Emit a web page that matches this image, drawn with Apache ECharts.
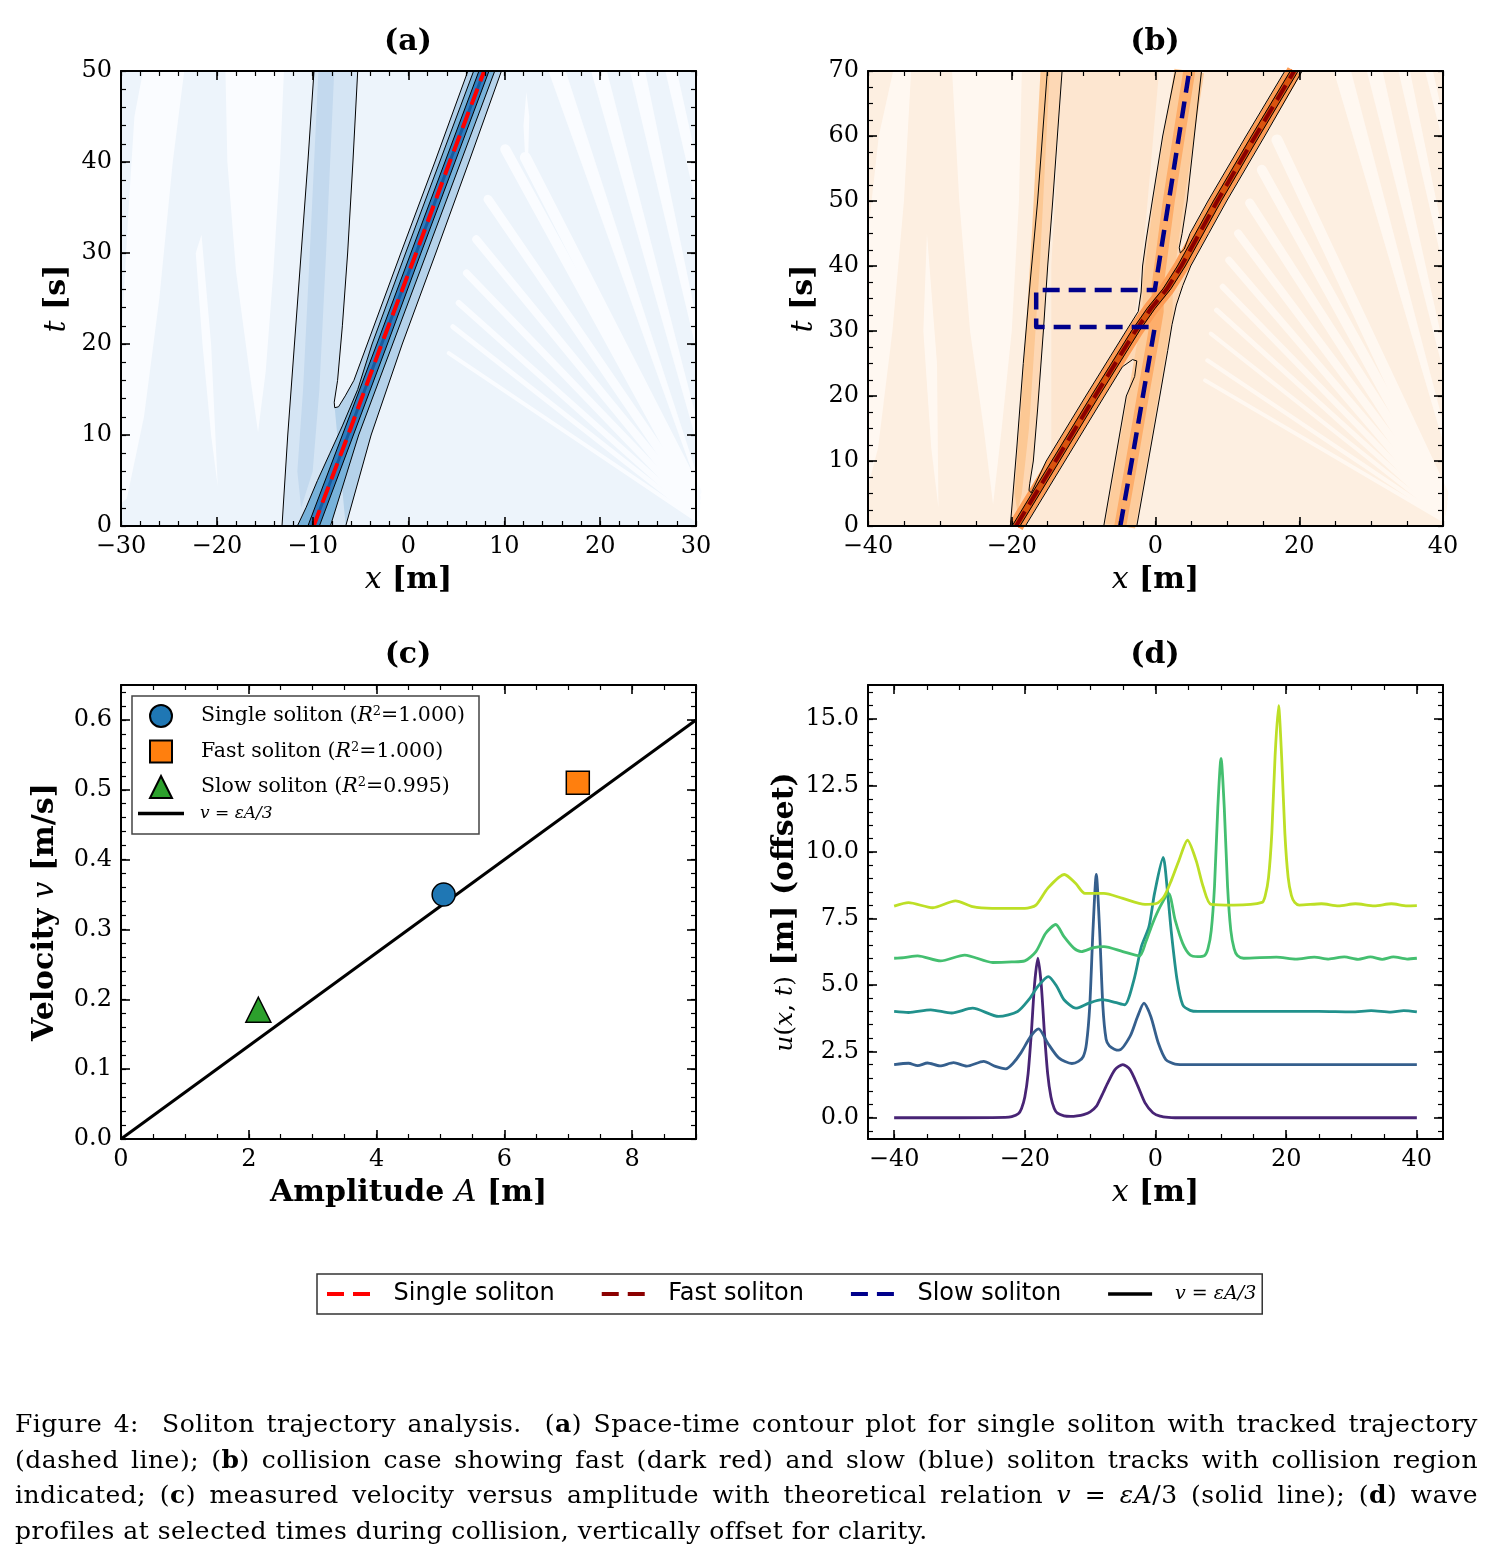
<!DOCTYPE html>
<html lang="en">
<head>
<meta charset="UTF-8">
<title>Soliton trajectory analysis</title>
<script src="https://cdn.jsdelivr.net/npm/echarts@6/dist/echarts.min.js"></script>
<style>
  body { margin: 0; background: #fff; }
  #chart { position: absolute; left: 0; top: 0; width: 1493px; height: 1565px; }
  #caption { position: absolute; left: 15px; top: 1406px; width: 1463px;
             font-family: 'DejaVu Serif', serif; font-size: 25px; letter-spacing: 0.5px;
             line-height: 35.7px; color: #000; }
  #caption div { text-align: justify; text-align-last: justify; }
  #caption div.last { text-align-last: left; }
</style>
</head>
<body>
<div id="chart"></div>
<div id="caption">
  <div>Figure 4:&nbsp; Soliton trajectory analysis.&nbsp; (<b>a</b>) Space-time contour plot for single soliton with tracked trajectory</div>
  <div>(dashed line); (<b>b</b>) collision case showing fast (dark red) and slow (blue) soliton tracks with collision region</div>
  <div>indicated; (<b>c</b>) measured velocity versus amplitude with theoretical relation <i>v</i> = <i>εA</i>/3 (solid line); (<b>d</b>) wave</div>
  <div class="last">profiles at selected times during collision, vertically offset for clarity.</div>
</div>
<script>
// ---------- (a) single soliton, x [m] vs t [s] ----------
var aTrack  = [[-9.9,0],[-6.3,10],[-2.8,20],[0.8,30],[4.3,40],[7.9,50]];
var aTailL  = [[-13.2,0],[-12.6,10],[-11.9,20],[-11.2,30],[-10.5,40],[-9.86,50]];
var aTailR  = [[-5.3,50],[-5.8,40],[-6.35,30],[-6.9,22],[-7.4,16],[-7.75,13.6],[-7.7,13.0]];
var aOuterL = [[-7.7,13.0],[-7.3,13.1],[-6.6,14.3],[-5.7,16],[-4.3,20],[-0.8,30],[2.75,40],[6.2,50]];
var aOuterR = [[-6.55,0],[-3.9,10],[-0.65,20],[2.85,30],[6.3,40],[9.7,50]];
var aMidL   = [[-11.6,0],[-10.7,2],[-9.5,5],[-8.2,8],[-6.9,11],[-5.3,15],[-3.8,20],[-0.3,30],[3.25,40],[6.8,50]];
var aMidR   = [[-8.15,0],[-5.2,10],[-1.65,20],[1.9,30],[5.45,40],[9.0,50]];
var aInL    = [[-10.5,0],[-6.9,10],[-3.3,20],[0.25,30],[3.8,40],[7.35,50]];
var aInR    = [[-9.3,0],[-5.75,10],[-2.2,20],[1.3,30],[4.85,40],[8.4,50]];
var aStreak = [[-9.4,50],[-7.75,50],[-8.6,30],[-9.3,15],[-10,6],[-11.2,2],[-11.6,6],[-11.0,15],[-10.3,30]];
var aStripes = [
  [[-27.7,50],[-23.4,50],[-24.6,40],[-26.0,25],[-27.6,12],[-29.4,3],[-30,2.5],[-30,20],[-29.2,35],[-28.6,45]],
  [[-19.1,50],[-13.0,50],[-13.4,40],[-14.1,28],[-14.9,17],[-15.7,10.3],[-16.6,17],[-18.0,28],[-18.9,40]],
  [[-21.6,32],[-20.6,20],[-19.9,4.3],[-20.6,10],[-21.5,20],[-22.2,30]],
  [[26.8,50],[28.0,50],[30,40.5],[30,35.5]],
  [[23.1,50],[24.7,50],[30,23],[30,19.5]],
  [[19.05,50],[20.7,50],[30,12],[30,9.5]],
  [[14.6,50],[16.4,50],[30,6],[30,4.8]],
  [[12.3,47.7],[12.6,45],[12.5,41],[12.2,40],[12.0,44]]
];
var aFan = [
  [[12.2,40.5],[30,3.8]], [[10.1,41.4],[30,3.1]], [[8.3,35.9],[30,2.5]], [[7.07,31.5],[30,2.0]],
  [[6.05,27.8],[30,1.6]], [[5.24,24.5],[30,1.25]], [[4.63,21.9],[30,0.95]], [[4.2,19.0],[30,0.7]]
];

// ---------- (b) collision ----------
var bFastTrack = [[-19.4,0],[-13.9,10],[-8.4,20],[-2.8,30],[-0.6,33.5],[1.6,36.5],[3.6,40],[8.6,50],[13.9,60],[19.3,70]];
var bSlowTrack = [[-4.9,0],[-3.3,10],[-1.75,20],[-0.1,30.6],[-16.6,30.6],[-16.6,36.3],[-0.1,36.3],[1.85,50],[3.27,60],[4.7,70]];
var bSlowRidge = [[-4.9,0],[-3.3,10],[-1.75,20],[-0.3,29],[0.3,33],[0.3,37],[1.85,50],[3.27,60],[4.7,70]];
var bTailL  = [[-20.2,0],[-19.3,12],[-18.4,25],[-17.4,38],[-16.4,50],[-15.05,70]];
var bTailR  = [[-13.0,70],[-14.3,50],[-15.0,40],[-15.6,30],[-16.4,18],[-17.0,10],[-17.5,6.5],[-17.6,5.5],[-17.3,5.1]];
var bOuterL = [[-17.3,5.1],[-16.9,6],[-15.2,10],[-9.7,20],[-4.1,30],[-2.4,33],[-2.0,36],[-1.8,40],[-1.3,44],[-0.45,50],[1.0,60],[2.8,70]];
var bOuterR = [[-2.6,0],[-1.0,10],[0.6,20],[1.7,27],[2.3,31],[2.9,34],[3.8,37],[4.9,40],[7.4,45],[9.9,50],[15.2,60],[20.4,70]];
var bWedgeLo = [[-18.1,0],[-12.6,10],[-7.1,20],[-4.6,24.5],[-3.2,25.6],[-2.6,25.4],[-2.9,23],[-4.06,20],[-5.63,10],[-7.2,0]];
var bWedgeHi = [[6.4,70],[5.4,60],[4.4,50],[3.7,45],[3.3,42.8],[3.45,42.0],[4.0,42.6],[4.8,45],[7.3,50],[12.6,60],[18.0,70]];
var bFastInL = [[-19.95,0],[-14.45,10],[-8.95,20],[-3.35,30],[-1.15,33.5],[1.05,36.5],[3.05,40],[8.05,50],[13.35,60],[18.75,70]];
var bFastInR = [[-18.85,0],[-13.35,10],[-7.85,20],[-2.25,30],[-0.05,33.5],[2.15,36.5],[4.15,40],[9.15,50],[14.45,60],[19.85,70]];
var bBlob   = [[-2.0,31.6],[-0.6,32.6],[0.9,34.0],[2.0,35.6],[1.2,36.0],[-0.2,35.0],[-1.6,33.4]];
var bShelf  = [[-14.5,0],[-7.2,0],[-4.5,20],[-2.7,33],[-1.5,45],[0.5,70],[-13.0,70],[-14.5,40]];
var bStreak = [[-16.0,70],[-14.7,70],[-16.1,40],[-17.6,15],[-18.6,5],[-19.2,2],[-19.6,5],[-18.6,20],[-17.2,45]];
var bStripes = [
  [[-36.5,70],[-34.0,70],[-35.0,50],[-36.6,30],[-38.6,12],[-40,6],[-40,45],[-38.5,60]],
  [[-28.3,70],[-18.6,70],[-19.0,50],[-20.0,30],[-21.4,15],[-22.6,3.3],[-23.9,15],[-25.8,30],[-27.3,50]],
  [[-31.8,45],[-30.4,25],[-30.2,2.8],[-31.2,12],[-32.3,30]],
  [[37.5,70],[38.6,70],[40,63],[40,59]],
  [[33.8,70],[35.4,70],[40,45],[40,40]],
  [[29.4,70],[31.6,70],[40,28],[40,24]],
  [[24.8,70],[27.2,70],[40,16],[40,13]],
  [[9.35,66],[10.2,68.7],[11.0,66],[10.2,63.6]],
  [[12.6,68],[13.2,69.7],[13.7,68],[13.2,66]]
];
var bFan = [
  [[16.9,59.4],[40,5.0]], [[14.8,54.8],[40,4.2]], [[13.1,49.7],[40,3.5]], [[11.5,45.0],[40,2.9]],
  [[10.2,40.9],[40,2.4]], [[9.35,36.8],[40,2.0]], [[8.5,33.2],[40,1.7]], [[7.7,29.6],[40,1.4]],
  [[7.2,25.5],[40,1.15]], [[6.9,22.4],[40,0.9]]
];

// ---------- (c) velocity vs amplitude ----------
var cSingle = [[5.05,0.35]];
var cFast   = [[7.15,0.51]];
var cSlow   = [[2.15,0.185]];
var cTheory = [[0,0],[9,0.6]];

// ---------- (d) wave profiles (offset 0, 2, 4, 6, 8) ----------
var d0 = [[-40,0],[-30,0],[-23,0.01],[-22,0.04],[-21,0.15],[-20.5,0.35],[-20,0.78],[-19.5,1.65],[-19,3.2],[-18.5,5.05],[-18,6.0],[-17.5,5.05],[-17,3.2],[-16.5,1.65],[-16,0.78],[-15.5,0.35],[-15,0.17],[-14,0.07],[-13,0.05],[-12,0.07],[-11,0.12],[-10,0.22],[-9,0.45],[-8.5,0.69],[-8,0.95],[-7.3,1.31],[-6.2,1.81],[-5,2.0],[-3.9,1.81],[-2.7,1.19],[-1.6,0.56],[-0.4,0.19],[0.7,0.06],[2,0.01],[3,0],[40,0]];
var d1 = [[-40,2.0],[-37.8,2.05],[-36.4,1.96],[-34.9,2.06],[-33,1.95],[-30.9,2.07],[-28.9,1.94],[-26.3,2.12],[-24.5,1.93],[-22.9,1.84],[-21.8,2.05],[-20.6,2.44],[-19.1,3.06],[-17.9,3.34],[-16.5,2.81],[-14.8,2.25],[-12.8,2.04],[-11.8,2.12],[-11.06,2.3],[-10.56,2.8],[-10.06,4.22],[-9.56,7.1],[-9.06,9.15],[-8.56,7.1],[-8.06,4.22],[-7.56,2.95],[-7.06,2.7],[-6.3,2.58],[-5.6,2.54],[-3.9,3.06],[-2.74,3.81],[-1.76,4.31],[-0.72,3.81],[0.43,2.81],[1.58,2.19],[3.0,2.02],[5,2.0],[40,2.0]];
var d2 = [[-40,4.0],[-37.8,3.96],[-34.4,4.06],[-31.2,3.94],[-28.0,4.12],[-24.0,3.81],[-21.1,4.0],[-19.4,4.44],[-18.0,4.94],[-16.4,5.31],[-15.1,4.94],[-14.0,4.44],[-12.2,4.12],[-10.2,4.31],[-8.2,4.44],[-6.2,4.34],[-4.75,4.25],[-3.3,5.19],[-2.16,6.44],[-1.0,7.19],[-0.15,8.44],[1.17,9.79],[1.86,8.44],[2.44,6.94],[3.3,5.19],[4.16,4.25],[5.3,4.04],[6.5,4.0],[25,4.0],[30,3.98],[33,4.03],[36,3.97],[38,4.03],[40,3.98]];
var d3 = [[-40,6.0],[-38.5,6.02],[-36.4,6.09],[-32.9,5.9],[-29.2,6.12],[-24.9,5.84],[-22,5.86],[-20.0,5.9],[-18.3,6.25],[-16.8,6.94],[-15.27,7.27],[-14.0,6.81],[-12.5,6.38],[-11.36,6.25],[-9.5,6.4],[-7.9,6.44],[-5.0,6.25],[-2.45,6.09],[-1.5,6.6],[-0.44,7.31],[0.71,7.94],[2.0,8.44],[3.0,7.44],[4.16,6.56],[5.3,6.12],[6.46,6.06],[7.5,6.1],[8.03,6.36],[8.53,7.04],[9.03,8.7],[9.53,11.64],[10.03,13.52],[10.53,11.64],[11.03,8.7],[11.53,7.04],[12.03,6.36],[12.53,6.1],[13.5,6.0],[18.5,6.04],[21.5,5.97],[24.3,6.04],[26.5,5.97],[28.9,6.05],[31,5.96],[32.9,6.05],[34.7,5.96],[36.4,6.05],[38.5,5.97],[40,6.0]];
var d4 = [[-40,7.96],[-37.8,8.09],[-34.1,7.9],[-30.6,8.16],[-28.0,7.94],[-25,7.88],[-20.0,7.88],[-18.3,8.0],[-16.5,8.63],[-13.95,9.15],[-12.2,8.81],[-10.8,8.44],[-7.9,8.44],[-5.0,8.25],[-1.6,8.03],[0.14,8.06],[1.29,8.31],[2.44,8.94],[3.6,9.69],[4.9,10.44],[6.2,9.69],[7.3,8.69],[8.5,8.03],[12,8.0],[16.3,8.1],[16.8,8.36],[17.3,9.04],[17.8,10.7],[18.3,13.6],[18.83,15.5],[19.3,13.6],[19.8,10.7],[20.3,9.04],[20.8,8.36],[21.3,8.1],[22,8.0],[25.4,8.05],[28,7.97],[30.6,8.05],[33.5,7.97],[36.1,8.05],[38.5,7.97],[40,7.98]];
var dColors = ['#482475', '#355f8d', '#21918c', '#44bf70', '#bddf26'];

// ---------- tick labels ----------
var aXMajor = [-30,-20,-10,0,10,20,30], aYMajor = [0,10,20,30,40,50];
var bXMajor = [-40,-20,0,20,40],        bYMajor = [0,10,20,30,40,50,60,70];
var cXMajor = [0,2,4,6,8],              cYMajor = [0,0.1,0.2,0.3,0.4,0.5,0.6];
var dXMajor = [-40,-20,0,20,40],        dYMajor = [0,2.5,5,7.5,10,12.5,15];

function steps(a, b, s) {
  var out = [];
  for (var v = a; v <= b + 1e-9; v += s) out.push(Math.round(v * 1e6) / 1e6);
  return out;
}
function fmtInt(v) { return v < 0 ? '\u2212' + (-v) : String(v); }
function fmt1(v) { return v.toFixed(1); }

var SERIF = 'DejaVu Serif';
var RICH = {
  i:  { fontFamily: SERIF, fontStyle: 'italic', fontSize: 30, color: '#000' },
  b:  { fontFamily: SERIF, fontWeight: 'bold', fontSize: 30, color: '#000' },
  s:  { fontFamily: SERIF, fontSize: 25, color: '#000' },
  si: { fontFamily: SERIF, fontStyle: 'italic', fontSize: 25, color: '#000' }
};

// four axes per direction: main (labels) + minor, and mirrored ones on the other side
function makeAxes(gi, dim, min, max, major, minor, fmt, name, gap) {
  var pos = dim === 'x' ? ['bottom', 'top'] : ['left', 'right'];
  var list = [];
  [0, 1].forEach(function (side) {
    [major, minor].forEach(function (vals, k) {
      var isMain = side === 0 && k === 0;
      var ax = {
        gridIndex: gi, type: 'value', min: min, max: max, position: pos[side], z: 10,
        axisLine: { show: k === 0, onZero: false, lineStyle: { color: '#000', width: 2 } },
        axisTick: { show: true, inside: true, length: k === 0 ? 9 : 5,
                    lineStyle: { color: '#000', width: k === 0 ? 1.6 : 1.2 }, customValues: vals },
        axisLabel: isMain ? { show: true, customValues: vals, formatter: fmt, margin: 9,
                              color: '#000', fontSize: 24, fontFamily: SERIF } : { show: false },
        splitLine: { show: false },
        axisPointer: { show: false }
      };
      if (isMain) {
        ax.name = name; ax.nameLocation = 'middle'; ax.nameGap = gap;
        ax.nameTextStyle = { rich: RICH };
      }
      list.push(ax);
    });
  });
  return list;
}

var xAxes = [].concat(
  makeAxes(0, 'x', -30, 30, aXMajor, steps(-30, 30, 2), fmtInt, '{i|x}{b| [m]}', 39),
  makeAxes(1, 'x', -40, 40, bXMajor, steps(-40, 40, 5), fmtInt, '{i|x}{b| [m]}', 39),
  makeAxes(2, 'x', 0, 9, cXMajor, steps(0, 9, 0.5), fmtInt, '{b|Amplitude }{i|A}{b| [m]}', 39),
  makeAxes(3, 'x', -44, 44, dXMajor, steps(-40, 40, 5), fmtInt, '{i|x}{b| [m]}', 39)
);
var yAxes = [].concat(
  makeAxes(0, 'y', 0, 50, aYMajor, steps(0, 50, 2), fmtInt, '{i|t}{b| [s]}', 49),
  makeAxes(1, 'y', 0, 70, bYMajor, steps(0, 70, 2.5), fmtInt, '{i|t}{b| [s]}', 49),
  makeAxes(2, 'y', 0, 0.65, cYMajor, steps(0, 0.64, 0.02), fmt1, '{b|Velocity }{i|v}{b| [m/s]}', 61),
  makeAxes(3, 'y', -0.8, 16.28, dYMajor, steps(-0.5, 16, 0.5), fmt1,
           '{si|u}{s|(}{si|x}{s|, }{si|t}{s|)}{b| [m] (offset)}', 68)
);

function poly(gi, pts, color, z) {
  return {
    type: 'custom', xAxisIndex: 4 * gi, yAxisIndex: 4 * gi, z: z, silent: true, clip: true,
    data: pts,
    renderItem: function (params, api) {
      if (params.dataIndex !== 0) return null;
      return { type: 'polygon', shape: { points: pts.map(function (p) { return api.coord(p); }) },
               style: { fill: color } };
    }
  };
}
function ln(gi, pts, color, width, z, extra) {
  var s = { type: 'line', xAxisIndex: 4 * gi, yAxisIndex: 4 * gi, data: pts, symbol: 'none', z: z,
            silent: true, clip: true, itemStyle: { color: color },
            lineStyle: { color: color, width: width, join: 'round' } };
  if (extra) Object.keys(extra).forEach(function (k) {
    if (k === 'lineStyle') Object.assign(s.lineStyle, extra[k]); else s[k] = extra[k];
  });
  return s;
}

var series = [];
// (a)
aStripes.forEach(function (p) { series.push(poly(0, p, '#fafcff', 1)); });
aFan.forEach(function (p, i) { series.push(ln(0, p, '#fafcff', Math.max(4, 11 - i), 1, { lineStyle: { cap: 'round' } })); });
series.push(poly(0, aTailL.concat(aTailR, aOuterL.slice(1), aOuterR.slice().reverse()), '#d5e5f4', 2));
series.push(poly(0, aStreak, '#c3d9ee', 2));
series.push(poly(0, aOuterL.concat(aOuterR.slice().reverse()), '#b5d2ea', 2));
series.push(poly(0, aMidL.concat(aMidR.slice().reverse()), '#78b2da', 2));
series.push(poly(0, aInL.concat(aInR.slice().reverse()), '#2f7dbf', 2));
series.push(ln(0, aTrack, '#1b5a9c', 3, 3));
[aTailL, aTailR.concat(aOuterL.slice(1)), aOuterR, aMidL, aMidR, aInL, aInR].forEach(function (c) {
  series.push(ln(0, c, '#000', 1, 4));
});
series.push(ln(0, aTrack, '#ff0000', 4, 6, { name: 'Single soliton', lineStyle: { type: [17, 8] } }));

// (b)
bStripes.forEach(function (p) { series.push(poly(1, p, '#fff8f1', 1)); });
bFan.forEach(function (p, i) { series.push(ln(1, p, '#fff8f1', Math.max(4, 11 - i), 1, { lineStyle: { cap: 'round' } })); });
series.push(poly(1, bShelf, '#fde6d0', 2));
series.push(poly(1, bTailL.concat(bTailR, bOuterL.slice(1), bOuterR.slice().reverse()), '#fdd8b5', 2));
series.push(poly(1, bStreak, '#fcc894', 2));
series.push(poly(1, bWedgeLo, '#fde9d6', 2));
series.push(poly(1, bWedgeHi, '#fdebda', 2));
series.push(ln(1, bSlowRidge, '#fdcc9c', 30, 3));
series.push(ln(1, bSlowRidge, '#fdae6b', 12, 3));
series.push(ln(1, bFastTrack, '#fd9c55', 15, 3));
series.push(ln(1, bFastTrack, '#d9530e', 7, 3));
series.push(poly(1, bBlob, '#ea6a20', 3));
[bTailL, bTailR.concat(bOuterL.slice(1)), bOuterR, bWedgeLo, bWedgeHi, bFastInL, bFastInR].forEach(function (c) {
  series.push(ln(1, c, '#000', 1, 4));
});
series.push(ln(1, bFastTrack, '#8b0000', 4, 6, { name: 'Fast soliton', lineStyle: { type: [17, 8] } }));
series.push(ln(1, bSlowTrack, '#00008b', 4.5, 6, { name: 'Slow soliton', lineStyle: { type: [17, 9] } }));

// (c)
series.push(ln(2, cTheory, '#000', 3, 3, { name: 'v=εA/3' }));
series.push({ type: 'scatter', name: 'Single soliton (R²=1.000)', xAxisIndex: 8, yAxisIndex: 8, data: cSingle,
  symbol: 'circle', symbolSize: 23, z: 5, itemStyle: { color: '#1f77b4', borderColor: '#000', borderWidth: 1.5, opacity: 1 } });
series.push({ type: 'scatter', name: 'Fast soliton (R²=1.000)', xAxisIndex: 8, yAxisIndex: 8, data: cFast,
  symbol: 'rect', symbolSize: 23, z: 5, itemStyle: { color: '#ff7f0e', borderColor: '#000', borderWidth: 1.5, opacity: 1 } });
series.push({ type: 'scatter', name: 'Slow soliton (R²=0.995)', xAxisIndex: 8, yAxisIndex: 8, data: cSlow,
  symbol: 'triangle', symbolSize: 25, z: 5, itemStyle: { color: '#2ca02c', borderColor: '#000', borderWidth: 1.5, opacity: 1 } });

// (d)
[d0, d1, d2, d3, d4].forEach(function (d, i) {
  series.push(ln(3, d, dColors[i], 2.8, 3, { smooth: 0.25 }));
});

var cLabels = {
  'Single soliton (R²=1.000)': 'Single soliton ({it|R}{sup|2}=1.000)',
  'Fast soliton (R²=1.000)': 'Fast soliton ({it|R}{sup|2}=1.000)',
  'Slow soliton (R²=0.995)': 'Slow soliton ({it|R}{sup|2}=0.995)'
};
var legendRich = {
  it:  { fontFamily: SERIF, fontStyle: 'italic', fontSize: 20.5, color: '#000' },
  sup: { fontFamily: SERIF, fontSize: 13, verticalAlign: 'top', color: '#000' },
  m:   { fontFamily: SERIF, fontStyle: 'italic', fontSize: 17, color: '#000' }
};
var DASH = 'path://M0,0h17v4h-17zM26,0h17v4h-17z';
var BAR = 'path://M0,0h46v3.5h-46z';

var titleStyle = function (t) {
  return { text: t, font: 'bold 30px "DejaVu Serif"', fill: '#000', align: 'center', verticalAlign: 'middle',
           textAlign: 'center', textVerticalAlign: 'middle' };
};

var chart = echarts.init(document.getElementById('chart'), null, { renderer: 'canvas' });
chart.setOption({
  animation: false,
  backgroundColor: '#fff',
  grid: [
    { left: 121, top: 71, width: 575, height: 455, show: true, backgroundColor: '#edf4fb', borderWidth: 0, outerBoundsMode: 'none' },
    { left: 868, top: 71, width: 575, height: 455, show: true, backgroundColor: '#fdefe1', borderWidth: 0, outerBoundsMode: 'none' },
    { left: 121, top: 685, width: 575, height: 454, outerBoundsMode: 'none' },
    { left: 868, top: 685, width: 575, height: 454, outerBoundsMode: 'none' }
  ],
  xAxis: xAxes,
  yAxis: yAxes,
  legend: [
    {
      orient: 'vertical', left: 149, top: 704, itemWidth: 22, itemHeight: 22, itemGap: 11.5,
      padding: 0, selectedMode: false, z: 6,
      data: ['Single soliton (R²=1.000)', 'Fast soliton (R²=1.000)', 'Slow soliton (R²=0.995)'],
      formatter: function (n) { return cLabels[n]; },
      textStyle: { fontFamily: SERIF, fontSize: 20.5, color: '#000', padding: [0, 0, 0, 24], rich: legendRich }
    },
    {
      orient: 'vertical', left: 138, top: 805, itemWidth: 46, itemHeight: 4, padding: 0,
      selectedMode: false, z: 6,
      data: [{ name: 'v=εA/3', icon: BAR, itemStyle: { color: '#000', borderWidth: 0 } }],
      formatter: function () { return '{m|v = εA/3}'; },
      textStyle: { fontFamily: SERIF, fontSize: 17, color: '#000', padding: [0, 0, 0, 11], rich: legendRich }
    },
    {
      orient: 'horizontal', left: 317, top: 1274, itemWidth: 44, itemHeight: 4, itemGap: 47,
      padding: [8, 6, 8, 10], backgroundColor: '#fff', borderColor: '#333', borderWidth: 1.5,
      selectedMode: false,
      data: [
        { name: 'Single soliton', icon: DASH, itemStyle: { color: '#ff0000', borderWidth: 0 } },
        { name: 'Fast soliton', icon: DASH, itemStyle: { color: '#8b0000', borderWidth: 0 } },
        { name: 'Slow soliton', icon: DASH, itemStyle: { color: '#00008b', borderWidth: 0 } },
        { name: 'v=εA/3', icon: 'path://M0,0h50v4h-50z', itemStyle: { color: '#000', borderWidth: 0 } }
      ],
      formatter: function (n) { return n === 'v=εA/3' ? '{m|v = εA/3}' : n; },
      textStyle: { fontFamily: 'DejaVu Sans', fontSize: 24, color: '#000', padding: [0, 0, 0, 18],
                   rich: { m: { fontFamily: SERIF, fontStyle: 'italic', fontSize: 19, color: '#000' } } }
    }
  ],
  graphic: [
    { type: 'rect', z: 5, shape: { x: 132, y: 696, width: 347, height: 138 },
      style: { fill: '#fff', stroke: '#444', lineWidth: 1.5 } },
    { type: 'text', x: 408, y: 42, style: titleStyle('(a)') },
    { type: 'text', x: 1155, y: 42, style: titleStyle('(b)') },
    { type: 'text', x: 408, y: 655, style: titleStyle('(c)') },
    { type: 'text', x: 1155, y: 655, style: titleStyle('(d)') }
  ],
  series: series
});
</script>
</body>
</html>
